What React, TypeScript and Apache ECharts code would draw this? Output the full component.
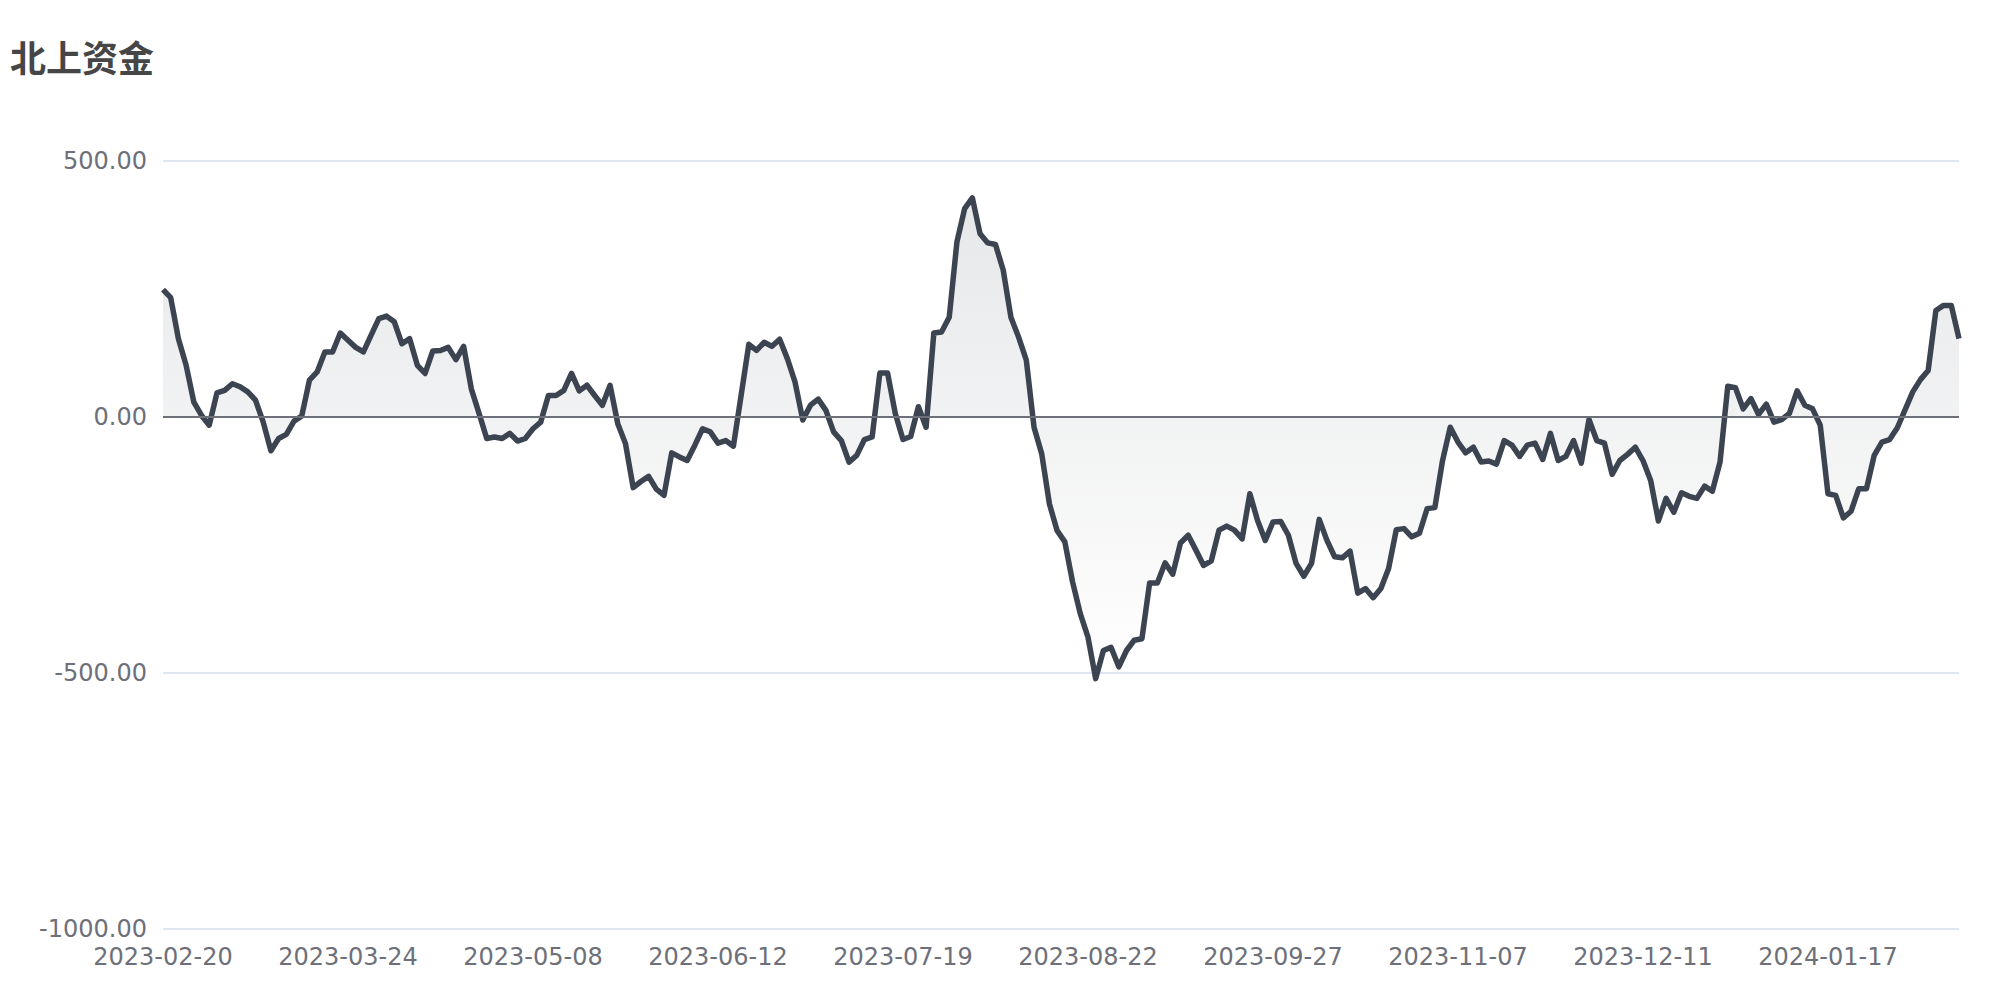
import React, { useEffect, useRef } from "react";
import * as echarts from "echarts";

const TITLE = "北上资金";
const START_DATE = "2023-02-20";
const POINT_COUNT = 234;
// Non-trading weekdays for the northbound channel in the plotted period
const HOLIDAYS = [
  "2023-04-05", "2023-04-07", "2023-04-10", "2023-04-28", "2023-05-01", "2023-05-02", "2023-05-03",
  "2023-05-26", "2023-06-22", "2023-06-23", "2023-07-17", "2023-09-01", "2023-09-08",
  "2023-10-02", "2023-10-03", "2023-10-04", "2023-10-05", "2023-10-06",
  "2023-12-25", "2023-12-26", "2024-01-01", "2024-02-09", "2024-02-12", "2024-02-13",
  "2024-02-14", "2024-02-15", "2024-02-16",
];
const Y_TICKS = [-1000, -500, 0, 500];

const VALUES_1 = [
  249, 233, 153, 101, 29, 3, -16, 47, 52, 65, 59, 49, 33, -10, -66, -42, -34, -8, 2, 72,
  88, 127, 127, 164, 150, 136, 127, 160, 192, 197, 186, 143, 153, 101, 85, 129, 130, 136, 112, 138,
  55, 7, -42, -39, -42, -32, -47, -42, -23, -10, 42, 42, 52, 85, 51, 62, 42, 23, 62, -13,
];
const VALUES_2 = [
  -52, -138, -126, -116, -141, -153, -70, -78, -85, -55, -23, -29, -51, -46, -57, 42, 142, 130, 146, 138,
  152, 114, 68, -6, 23, 35, 13, -29, -46, -88, -75, -44, -39, 86, 86, 7, -44, -38, 20, -20,
  164, 166, 195, 342, 407, 428, 358, 340, 337, 287, 195, 156, 111, -20, -72, -170, -222, -244, -322, -384,
];
const VALUES_3 = [
  -430, -511, -456, -450, -488, -456, -436, -433, -324, -324, -285, -307, -246, -231, -260, -290, -281, -221, -213, -221,
  -238, -150, -202, -241, -205, -204, -231, -286, -311, -286, -200, -241, -273, -275, -262, -344, -335, -353, -335, -296,
  -220, -218, -234, -227, -179, -177, -85, -20, -49, -70, -59, -88, -86, -92, -46, -55, -77, -55, -51, -83,
];
const VALUES_4 = [
  -32, -85, -77, -46, -90, -5, -46, -51, -112, -85, -73, -59, -85, -124, -203, -159, -186, -148, -155, -159,
  -135, -145, -88, 60, 57, 16, 36, 5, 25, -10, -5, 7, 51, 23, 16, -16, -150, -153, -197, -184,
  -140, -140, -75, -49, -44, -21, 14, 49, 73, 91, 208, 218, 218, 153,
];
const VALUES = [...VALUES_1, ...VALUES_2, ...VALUES_3, ...VALUES_4];

function buildDates(): string[] {
  const skip = new Set(HOLIDAYS);
  const out: string[] = [];
  const d = new Date(START_DATE + "T00:00:00Z");
  while (out.length < POINT_COUNT) {
    const wd = d.getUTCDay();
    const s = d.toISOString().slice(0, 10);
    if (wd !== 0 && wd !== 6 && !skip.has(s)) out.push(s);
    d.setUTCDate(d.getUTCDate() + 1);
  }
  return out;
}
const DATES = buildDates();

const FONT = "'DejaVu Sans', sans-serif";

export default function App() {
  const ref = useRef<HTMLDivElement>(null);
  useEffect(() => {
    if (!ref.current) return;
    const chart = echarts.init(ref.current, null, { renderer: "svg" });
    chart.setOption({
      animation: false,
      textStyle: { fontFamily: FONT },
      title: {
        text: TITLE,
        left: 2,
        top: 33,
        padding: 0,
        textStyle: { fontSize: 36, fontWeight: "bold", color: "#464646", fontFamily: "'DejaVu Sans', 'Noto Sans CJK SC', sans-serif" },
      },
      grid: { left: 155, right: 33, top: 153, bottom: 63, containLabel: false },
      xAxis: {
        type: "category",
        data: DATES,
        boundaryGap: false,
        axisLine: { show: false },
        axisTick: { show: false },
        splitLine: { show: false },
        axisLabel: { interval: 23, fontSize: 24, color: "#6E7079", margin: 16, fontFamily: FONT },
      },
      yAxis: {
        type: "value",
        min: Y_TICKS[0],
        max: Y_TICKS[Y_TICKS.length - 1],
        interval: 500,
        axisLine: { show: false },
        axisTick: { show: false },
        splitLine: { lineStyle: { color: "#E0E6F1", width: 2 } },
        axisLabel: {
          fontSize: 24,
          color: "#6E7079",
          margin: 16,
          fontFamily: FONT,
          formatter: (v: number) => v.toFixed(2),
        },
      },
      series: [
        {
          type: "line",
          data: VALUES,
          symbol: "none",
          lineStyle: { color: "#3b4450", width: 5.5, join: "round" },
          itemStyle: { color: "#3b4450" },
          areaStyle: {
            color: new echarts.graphic.LinearGradient(0, 0, 0, 1, [
              { offset: 0, color: "rgba(58,68,80,0.18)" },
              { offset: 1, color: "rgba(58,68,80,0)" },
            ]),
          },
          markLine: {
            silent: true,
            symbol: ["none", "none"],
            label: { show: false },
            lineStyle: { color: "#6E7079", width: 2, type: "solid" },
            data: [{ yAxis: 0 }],
          },
        },
      ],
    });
    return () => chart.dispose();
  }, []);
  return <div ref={ref} style={{ width: 1984, height: 984 }} />;
}
